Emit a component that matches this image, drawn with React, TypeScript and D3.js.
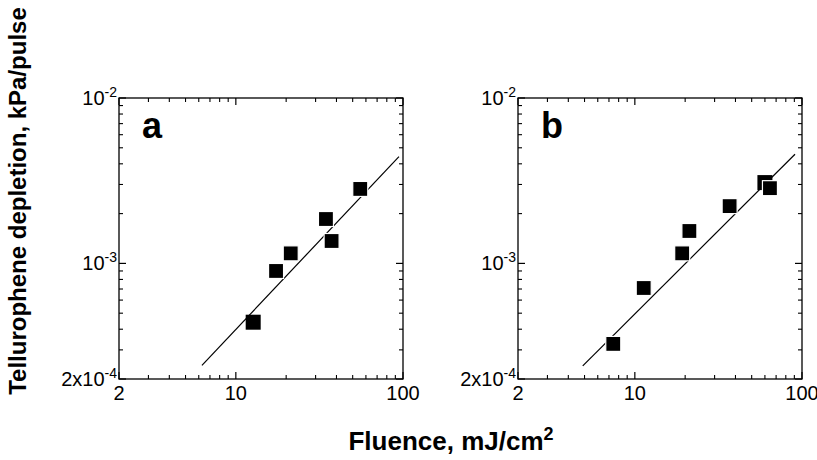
import React from "react";
import * as d3 from "d3";

const xMajorTicks = [2, 10, 100];
const xMajorLabels = ["2", "10", "100"];
const xMinorTicks = [3, 4, 5, 6, 7, 8, 9, 20, 30, 40, 50, 60, 70, 80, 90];
const yMajorTicks = [2e-4, 1e-3, 1e-2];
const yLabelBase = ["2x10", "10", "10"];
const yLabelExp = ["-4", "-3", "-2"];
const yMinorTicks = [3e-4, 4e-4, 5e-4, 6e-4, 7e-4, 8e-4, 9e-4, 2e-3, 3e-3, 4e-3, 5e-3, 6e-3, 7e-3, 8e-3, 9e-3];

const panelAx = [12.7, 17.4, 21.3, 34.6, 37.4, 55.5];
const panelAy = [4.41e-4, 9.0e-4, 1.15e-3, 1.855e-3, 1.366e-3, 2.82e-3];
const fitAx = [6.27, 94.6];
const fitAy = [2.42e-4, 4.42e-3];

const panelBx = [60.0, 7.43, 11.3, 19.2, 21.2, 36.9, 64.3];
const panelBy = [3.08e-3, 3.26e-4, 7.1e-4, 1.15e-3, 1.57e-3, 2.22e-3, 2.85e-3];
const fitBx = [4.88, 90.8];
const fitBy = [2.4e-4, 4.57e-3];

const panelLabels = ["a", "b"];

const FONT = "'Liberation Sans', Arial, Helvetica, sans-serif";

type PanelProps = {
  left: number;
  label: string;
  xs: number[];
  ys: number[];
  fx: number[];
  fy: number[];
};

const TOP = 98;
const BOTTOM = 379;
const W = 284;

function Panel({ left, label, xs, ys, fx, fy }: PanelProps) {
  const x = d3.scaleLog().domain([2, 100]).range([left, left + W]);
  const y = d3.scaleLog().domain([2e-4, 1e-2]).range([BOTTOM, TOP]);
  const line = d3
    .line<number>()
    .x((d) => x(fx[d]))
    .y((d) => y(fy[d]));
  const sq = 15;
  const right = left + W;
  return (
    <g>
      <rect x={left} y={TOP} width={W} height={BOTTOM - TOP} fill="none" stroke="#000" strokeWidth={1.3} />
      {xMajorTicks.map((t, i) => (
        <g key={"xm" + i}>
          <line x1={x(t)} x2={x(t)} y1={BOTTOM} y2={BOTTOM - 7} stroke="#000" strokeWidth={1.2} />
          <line x1={x(t)} x2={x(t)} y1={TOP} y2={TOP + 7} stroke="#000" strokeWidth={1.2} />
          <text x={x(t)} y={400} textAnchor="middle" fontSize={20} fontFamily={FONT}>
            {xMajorLabels[i]}
          </text>
        </g>
      ))}
      {xMinorTicks.map((t, i) => (
        <g key={"xn" + i}>
          <line x1={x(t)} x2={x(t)} y1={BOTTOM} y2={BOTTOM - 4} stroke="#000" strokeWidth={1.1} />
          <line x1={x(t)} x2={x(t)} y1={TOP} y2={TOP + 4} stroke="#000" strokeWidth={1.1} />
        </g>
      ))}
      {yMajorTicks.map((t, i) => (
        <g key={"ym" + i}>
          <line x1={left} x2={left + 7} y1={y(t)} y2={y(t)} stroke="#000" strokeWidth={1.2} />
          <line x1={right} x2={right - 7} y1={y(t)} y2={y(t)} stroke="#000" strokeWidth={1.2} />
          <text x={left - 2} y={y(t) + 7} textAnchor="end" fontSize={20} fontFamily={FONT}>
            {yLabelBase[i]}
            <tspan fontSize={14} dy={-8}>
              {yLabelExp[i]}
            </tspan>
          </text>
        </g>
      ))}
      {yMinorTicks.map((t, i) => (
        <g key={"yn" + i}>
          <line x1={left} x2={left + 4} y1={y(t)} y2={y(t)} stroke="#000" strokeWidth={1.1} />
          <line x1={right} x2={right - 4} y1={y(t)} y2={y(t)} stroke="#000" strokeWidth={1.1} />
        </g>
      ))}
      <path d={line([0, 1]) || ""} fill="none" stroke="#000" strokeWidth={1.2} />
      {xs.map((v, i) => (
        <rect
          key={"p" + i}
          x={x(v) - sq / 2}
          y={y(ys[i]) - sq / 2}
          width={sq}
          height={sq}
          fill="#000"
          stroke="#fff"
          strokeWidth={i > 0 ? 1.2 : 0}
        />
      ))}
      <text x={left + 23} y={138} fontSize={36} fontWeight="bold" fontFamily={FONT}>
        {label}
      </text>
    </g>
  );
}

export default function App() {
  return (
    <svg
      width={817}
      height={460}
      style={{ position: "absolute", left: 0, top: 0, background: "#fff" }}
    >
      <rect x={0} y={0} width={817} height={460} fill="#fff" />
      <Panel left={119} label={panelLabels[0]} xs={panelAx} ys={panelAy} fx={fitAx} fy={fitAy} />
      <Panel left={518} label={panelLabels[1]} xs={panelBx} ys={panelBy} fx={fitBx} fy={fitBy} />
      <text
        transform="translate(26,201) rotate(-90)"
        textAnchor="middle"
        fontSize={24}
        fontWeight="bold"
        fontFamily={FONT}
      >
        Tellurophene depletion, kPa/pulse
      </text>
      <text x={451} y={450} textAnchor="middle" fontSize={26} fontWeight="bold" fontFamily={FONT}>
        Fluence, mJ/cm
        <tspan fontSize={18} dy={-10}>
          2
        </tspan>
      </text>
    </svg>
  );
}
